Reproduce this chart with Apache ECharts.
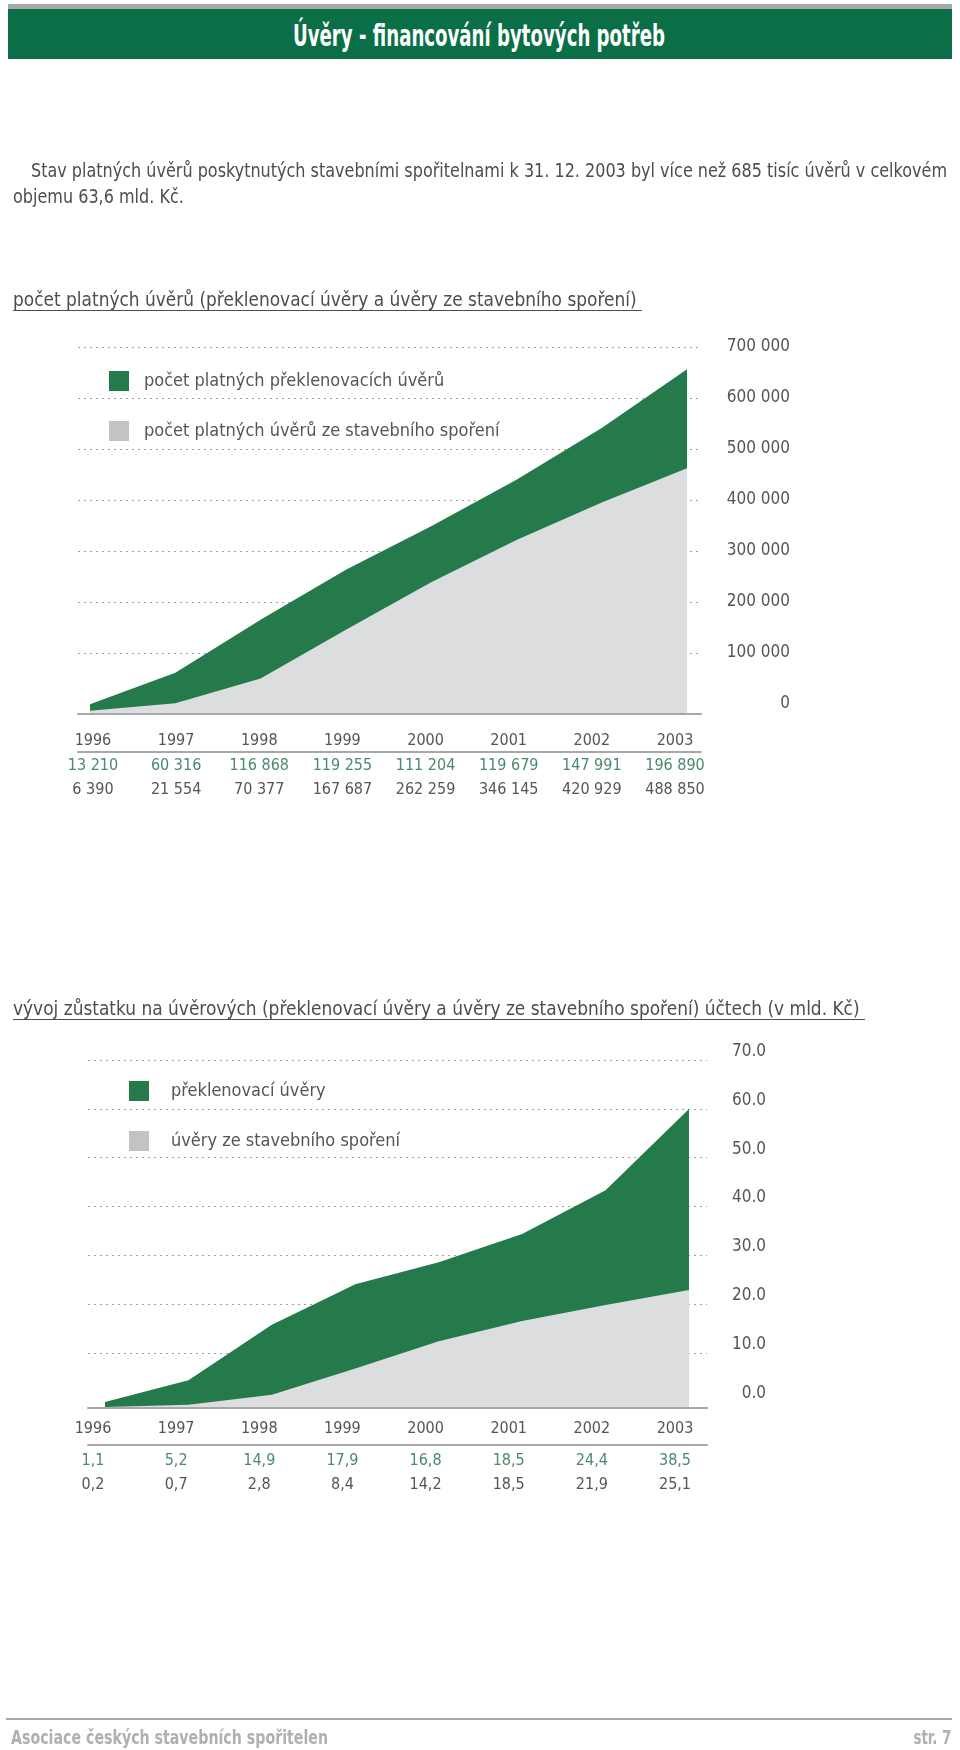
<!DOCTYPE html>
<html>
<head>
<meta charset="utf-8">
<script src="https://cdn.jsdelivr.net/npm/echarts@6/dist/echarts.min.js"></script>
<style>
  html, body { margin: 0; padding: 0; background: #fff; }
  body { width: 960px; height: 1750px; position: relative; overflow: hidden;
         font-family: "Liberation Sans Narrow", "DejaVu Sans Condensed", "Liberation Sans", sans-serif; }
  #chart { position: absolute; left: 0; top: 0; width: 960px; height: 1750px; }
  .abs { position: absolute; white-space: nowrap; }
  .fit { display: inline-block; transform-origin: 0 50%; }
  #topbar { left: 8px; top: 4px; width: 944px; height: 5px; background: #a8a8a8; }
  #header { left: 8px; top: 9px; width: 944px; height: 50px; background: #0a6e46; }
  #htitle { top: 17px; left: 293px; color: #fff; font-weight: bold; font-size: 31px; line-height: 36px; }
  .para { color: #4d4d4d; font-size: 19px; line-height: 24px; }
  .ctitle { color: #4d4d4d; font-size: 20px; line-height: 24px; }
  .ctitle .fit { text-decoration: underline; text-underline-offset: 4px; text-decoration-thickness: 1px; }
  #footline { left: 6px; top: 1718px; width: 946px; height: 2px; background: #a8a8a8; }
  .foot { color: #b0b0b0; font-weight: bold; font-size: 19px; line-height: 22px; }
</style>
</head>
<body>
<div id="chart"></div>
<div class="abs" id="topbar"></div>
<div class="abs" id="header"></div>
<div class="abs" id="htitle"><span class="fit" data-w="372">Úvěry - financování bytových potřeb</span></div>
<div class="abs para" style="left:31px; top:158px;"><span class="fit" id="p1" data-w="916">Stav platných úvěrů poskytnutých stavebními spořitelnami k 31. 12. 2003 byl více než 685 tisíc úvěrů v celkovém</span></div>
<div class="abs para" style="left:13px; top:184px;"><span class="fit" id="p2" data-same="p1">objemu 63,6 mld. Kč.</span></div>
<div class="abs ctitle" style="left:13px; top:287px;"><span class="fit" data-w="629">počet platných úvěrů (překlenovací úvěry a úvěry ze stavebního spoření)&nbsp;</span></div>
<div class="abs ctitle" style="left:13px; top:996px;"><span class="fit" data-w="852">vývoj zůstatku na úvěrových (překlenovací úvěry a úvěry ze stavebního spoření) účtech (v mld. Kč)&nbsp;</span></div>
<div class="abs" id="footline"></div>
<div class="abs foot" style="left:11px; top:1726px;"><span class="fit" data-w="317">Asociace českých stavebních spořitelen</span></div>
<div class="abs foot" style="right:9px; top:1726px;"><span class="fit" style="transform-origin:100% 50%;" data-w="38">str. 7</span></div>

<script>
// ---------- data ----------
const years = [1996, 1997, 1998, 1999, 2000, 2001, 2002, 2003];
// počet platných úvěrů
const bridgeCount  = [13210, 60316, 116868, 119255, 111204, 119679, 147991, 196890];
const savingsCount = [6390, 21554, 70377, 167687, 262259, 346145, 420929, 488850];
const countTicks = [0, 100000, 200000, 300000, 400000, 500000, 600000, 700000];
// zůstatek v mld. Kč
const bridgeVolume  = [1.1, 5.2, 14.9, 17.9, 16.8, 18.5, 24.4, 38.5];
const savingsVolume = [0.2, 0.7, 2.8, 8.4, 14.2, 18.5, 21.9, 25.1];
const volumeTicks = [0, 10, 20, 30, 40, 50, 60, 70];

const names1 = ['počet platných překlenovacích úvěrů', 'počet platných úvěrů ze stavebního spoření'];
const names2 = ['překlenovací úvěry', 'úvěry ze stavebního spoření'];

// ---------- fit html text widths ----------
const scales = {};
document.querySelectorAll('.fit').forEach(el => {
  if (el.dataset.w) {
    const s = parseFloat(el.dataset.w) / el.getBoundingClientRect().width;
    if (el.id) scales[el.id] = s;
    el.style.transform = 'scaleX(' + s + ')';
  }
});
document.querySelectorAll('.fit').forEach(el => {
  if (el.dataset.same) el.style.transform = 'scaleX(' + scales[el.dataset.same] + ')';
});

// ---------- helpers ----------
const FONT = '"Liberation Sans Narrow", "DejaVu Sans Condensed", "Liberation Sans", sans-serif';
const GREEN = '#247a4b';
const GREY_AREA = '#dcdddf';
const GREY_ICON = '#c3c3c3';
const TXT = '#555555';
const GTXT = '#4a8a68';
const LINE = '#a8a8a8';
const FS = 16;
const thousands = v => String(v).replace(/\B(?=(\d{3})+(?!\d))/g, ' ');
const comma = v => v.toFixed(1).replace('.', ',');
const idx = v => years.indexOf(Math.round(v));
// the green band sits on top of the grey one: its upper edge is the sum of both series
const onTop = (base, top) => years.map((y, i) => [y, base[i] + top[i]]);
const own = (arr) => years.map((y, i) => [y, arr[i]]);

function dataX(gridIndex, min, max) {
  return { type: 'value', gridIndex, min, max, position: 'bottom', z: 5,
    axisLine: { show: true, onZero: false, lineStyle: { color: LINE, width: 2 } },
    axisTick: { show: false }, axisLabel: { show: false }, splitLine: { show: false } };
}
function labelX(gridIndex, min, max, fmt, lh) {
  return { type: 'value', gridIndex, min, max, position: 'bottom',
    axisLine: { show: false, onZero: false }, axisTick: { show: false }, splitLine: { show: false },
    axisLabel: { customValues: years, margin: lh.margin, fontFamily: FONT,
      formatter: fmt,
      rich: {
        y: { fontFamily: FONT, fontSize: FS, color: TXT, lineHeight: lh.y },
        g: { fontFamily: FONT, fontSize: FS, color: GTXT, lineHeight: lh.g },
        k: { fontFamily: FONT, fontSize: FS, color: TXT, lineHeight: lh.k }
      } } };
}
function sepX(gridIndex, min, max, offset) {
  return { type: 'value', gridIndex, min, max, position: 'bottom', offset,
    axisLine: { show: true, onZero: false, lineStyle: { color: LINE, width: 2 } },
    axisTick: { show: false }, axisLabel: { show: false }, splitLine: { show: false } };
}
function dataY(gridIndex, max) {
  return { type: 'value', gridIndex, min: 0, max, show: false, splitLine: { show: false } };
}
function labelY(gridIndex, min, max, ticks, fmt, margin, va) {
  return { type: 'value', gridIndex, min, max, position: 'right',
    axisLine: { show: false }, axisTick: { show: false, customValues: ticks.filter(t => t > 0) },
    splitLine: { show: true, lineStyle: { color: '#a0a0a0', width: 1, type: [2, 4] } },
    axisLabel: { customValues: ticks, formatter: fmt, align: 'right', verticalAlign: va,
      margin, fontFamily: FONT, fontSize: FS + 1, color: TXT } };
}
function area(name, xi, yi, data, color, z) {
  return { name, type: 'line', xAxisIndex: xi, yAxisIndex: yi, data, z,
    symbol: 'none', smooth: false, silent: true,
    lineStyle: { width: 0 }, itemStyle: { color }, areaStyle: { color, opacity: 1 } };
}
function legend(names, left, top, gap) {
  return { orient: 'vertical', left, top, itemWidth: 20, itemHeight: 20, itemGap: 30, icon: 'rect',
    selectedMode: false,
    data: [{ name: names[0] }, { name: names[1], itemStyle: { color: GREY_ICON } }],
    textStyle: { fontFamily: FONT, fontSize: 18, color: TXT, padding: [0, 0, 0, gap] } };
}

const chart = echarts.init(document.getElementById('chart'), null, { renderer: 'canvas' });
chart.setOption({
  animation: false,
  backgroundColor: 'transparent',
  grid: [
    { left: 78, top: 347, width: 623, height: 367 },
    { left: 88, top: 1060, width: 619, height: 348 }
  ],
  legend: [ legend(names1, 104, 366, 10), legend(names2, 124, 1076, 17) ],
  xAxis: [
    dataX(0, 1995.859, 2003.164),
    labelX(0, 1995.82, 2003.313, v => { const i = idx(v);
      return '{y|' + years[i] + '}\n{g|' + thousands(bridgeCount[i]) + '}\n{k|' + thousands(savingsCount[i]) + '}'; },
      { margin: 15, y: 24, g: 26, k: 22 }),
    sepX(0, 1995.82, 2003.313, 38),
    dataX(1, 1995.796, 2003.216),
    labelX(1, 1995.94, 2003.385, v => { const i = idx(v);
      return '{y|' + years[i] + '}\n{g|' + comma(bridgeVolume[i]) + '}\n{k|' + comma(savingsVolume[i]) + '}'; },
      { margin: 9, y: 24, g: 40, k: 8 }),
    sepX(1, 1995.94, 2003.385, 37)
  ],
  yAxis: [
    dataY(0, 730000),
    labelY(0, -19600, 700000, countTicks, v => thousands(v), 89, 'middle'),
    dataY(1, 74.0),
    labelY(1, -1.27, 70, volumeTicks, v => v.toFixed(1), 59, 'bottom')
  ],
  series: [
    area(names1[0], 0, 0, onTop(savingsCount, bridgeCount), GREEN, 2),
    area(names1[1], 0, 0, own(savingsCount), GREY_AREA, 3),
    area(names2[0], 3, 2, onTop(savingsVolume, bridgeVolume), GREEN, 2),
    area(names2[1], 3, 2, own(savingsVolume), GREY_AREA, 3)
  ]
});
</script>
</body>
</html>
